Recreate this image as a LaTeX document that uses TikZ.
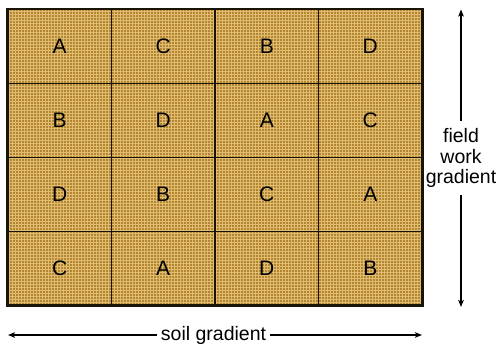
\documentclass[tikz,border=0pt]{standalone}
\usepackage{fontspec}
\setmainfont{Liberation Sans}
\usetikzlibrary{patterns,arrows.meta}
\definecolor{plotbase}{RGB}{180,134,50}
\definecolor{plotweave}{RGB}{224,188,112}
\definecolor{edgecol}{RGB}{25,20,10}
\newcommand{\cellfont}{\fontsize{21}{22}\selectfont}
\tikzset{
  plot/.style={draw=edgecol, line width=1.3pt, minimum width=103.5pt, minimum height=73.9pt,
    inner sep=0pt, preaction={fill=plotbase}, pattern=grid, pattern color=plotweave},
  lbl/.style={font=\fontsize{19.5}{20.5}\selectfont, align=center},
  garrow/.style={line width=1.1pt, -{Stealth[length=7pt,width=5.5pt,inset=1.5pt]}}
}
\begin{document}
\begin{tikzpicture}[x=1pt,y=1pt]
\useasboundingbox (0,0) rectangle (500,347);
\fill[white] (0,0) rectangle (500,347);
\foreach \r/\row in {0/{A,C,B,D},1/{B,D,A,C},2/{D,B,C,A},3/{C,A,D,B}}{
  \foreach \t [count=\c from 0] in \row {
    \node[plot] (cell-\r-\c) at ({8+51.75+103.5*\c},{337.5-36.95-73.9*\r}) {\cellfont\t};
  }
}
\draw[edgecol, line width=2pt] (cell-0-0.north west) rectangle (cell-3-3.south east);
\node[lbl] (soil) at (213.5,12) {soil gradient};
\coordinate (sl) at (8,12);
\coordinate (sr) at (422,12);
\draw[garrow] (soil.west) -- (sl);
\draw[garrow] (soil.east) -- (sr);
\node[lbl, inner ysep=7pt] (fwg) at (461,189) {field\\work\\gradient};
\coordinate (ft) at (461,337.5);
\coordinate (fb) at (461,40);
\draw[garrow] (fwg.north) -- (ft);
\draw[garrow] (fwg.south) -- (fb);
\end{tikzpicture}
\end{document}
